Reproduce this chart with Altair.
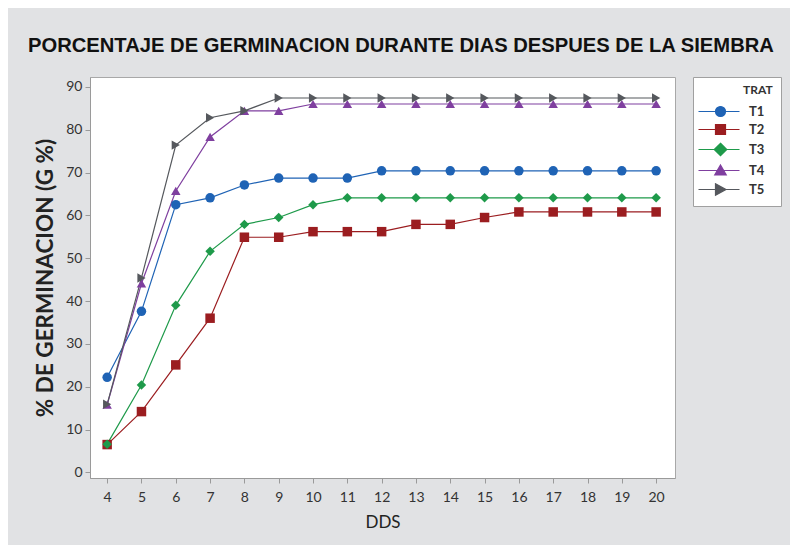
import altair as alt
import pandas as pd

# ---- data ----
dds = list(range(4, 21))
series_names = ["T1", "T2", "T3", "T4", "T5"]
t1 = [22.2, 37.6, 62.5, 64.1, 67.1, 68.7, 68.7, 68.7, 70.4, 70.4, 70.4, 70.4, 70.4, 70.4, 70.4, 70.4, 70.4]
t2 = [6.5, 14.2, 25.1, 36.0, 54.9, 54.9, 56.2, 56.2, 56.2, 57.9, 57.9, 59.5, 60.8, 60.8, 60.8, 60.8, 60.8]
t3 = [6.6, 20.4, 39.0, 51.6, 57.9, 59.5, 62.5, 64.1, 64.1, 64.1, 64.1, 64.1, 64.1, 64.1, 64.1, 64.1, 64.1]
t4 = [15.8, 44.1, 65.7, 78.3, 84.4, 84.4, 86.0, 86.0, 86.0, 86.0, 86.0, 86.0, 86.0, 86.0, 86.0, 86.0, 86.0]
t5 = [15.9, 45.4, 76.4, 82.8, 84.4, 87.4, 87.4, 87.4, 87.4, 87.4, 87.4, 87.4, 87.4, 87.4, 87.4, 87.4, 87.4]
y_ticks = [0, 10, 20, 30, 40, 50, 60, 70, 80, 90]

colors = ["#1f63b5", "#9b1d20", "#1e9a4a", "#7f3f9f", "#55585d"]
shapes = ["circle", "square", "diamond", "triangle-up", "triangle-right"]
# legend symbols: a short line with the marker on it
legend_paths = [
    "M-1.8,0H6.4M1.6,0A1,1 0 1,0 3.6,0A1,1 0 1,0 1.6,0Z",
    "M-1.8,0H6.4M1.6,-1H3.6V1H1.6Z",
    "M-1.8,0H6.4M2.6,-1.25L3.85,0L2.6,1.25L1.35,0Z",
    "M-1.8,0H6.4M2.6,-1.1L3.75,0.9H1.45Z",
    "M-1.8,0H6.4M1.6,-1.15L3.7,0L1.6,1.15Z",
]

rows = []
for name, vals in zip(series_names, [t1, t2, t3, t4, t5]):
    for d, v in zip(dds, vals):
        rows.append({"DDS": d, "G": v, "TRAT": name})
df = pd.DataFrame(rows)

label_font = "Lato"
x = alt.X(
    "DDS:Q",
    scale=alt.Scale(domain=[3.5, 20.55], nice=False, zero=False),
    axis=alt.Axis(values=dds, title="DDS", format="d", titleFontSize=17,
                  titleFontWeight="normal", titlePadding=10, labelPadding=7),
)
y = alt.Y(
    "G:Q",
    scale=alt.Scale(domain=[-1.3, 92.3], nice=False, zero=False),
    axis=alt.Axis(values=y_ticks, title="% DE GERMINACION (G %)", titleFontSize=22.5,
                  titleFontWeight="bold", titlePadding=8, labelPadding=3),
)
color = alt.Color("TRAT:N", scale=alt.Scale(domain=series_names, range=colors), legend=None)

lines = alt.Chart(df).mark_line(strokeWidth=1.2).encode(x=x, y=y, color=color)
points = alt.Chart(df).mark_point(filled=True, size=90, opacity=1).encode(
    x=x, y=y, color=color,
    shape=alt.Shape("TRAT:N", scale=alt.Scale(domain=series_names, range=shapes), legend=None),
)

leg = alt.Legend(
    title="\u200b" + "\u2002" * 7 + "TRAT", orient="right", offset=18, padding=8,
    fillColor="white", strokeColor="#a0a0a0", symbolSize=100, symbolStrokeWidth=1.2,
    symbolOpacity=1, labelOffset=35, labelFont=label_font, labelFontSize=13,
    labelFontWeight="bold", labelColor="#333333", titleFont=label_font, titleFontSize=12,
    titleFontWeight="bold", titleColor="#333333", titlePadding=8, rowPadding=3,
)
legend_layer = alt.Chart(df).mark_point(filled=True, opacity=0, strokeWidth=1.2).encode(
    x=x, y=y,
    fill=alt.Fill("TRAT:N", scale=alt.Scale(domain=series_names, range=colors), legend=leg),
    stroke=alt.Stroke("TRAT:N", scale=alt.Scale(domain=series_names, range=colors), legend=leg),
    shape=alt.Shape("TRAT:N", scale=alt.Scale(domain=series_names, range=legend_paths), legend=leg),
)

chart = (
    alt.layer(lines, points, legend_layer)
    .resolve_scale(shape="independent", fill="independent", stroke="independent")
    .properties(
        width=585, height=401,
        autosize=alt.AutoSizeParams(type="none"),
        padding={"left": 82, "top": 69, "right": 115, "bottom": 67},
        background="#e1e2e4",
        title=alt.TitleParams(
            "PORCENTAJE DE GERMINACION DURANTE DIAS DESPUES DE LA SIEMBRA",
            font="Liberation Sans", fontSize=20.2, fontWeight="bold", color="#111111",
            anchor="start", frame="group", dx=-62, offset=20,
        ),
    )
    .configure_view(stroke="#a8a8a8", fill="white", strokeWidth=1)
    .configure_axis(
        grid=False, domainColor="#9a9a9a", tickColor="#9a9a9a", tickSize=5,
        labelFont=label_font, labelFontSize=14, labelColor="#333333",
        titleFont=label_font, titleColor="#222222",
    )
)

chart.save("out.html", embed_options={"renderer": "svg", "actions": False})
